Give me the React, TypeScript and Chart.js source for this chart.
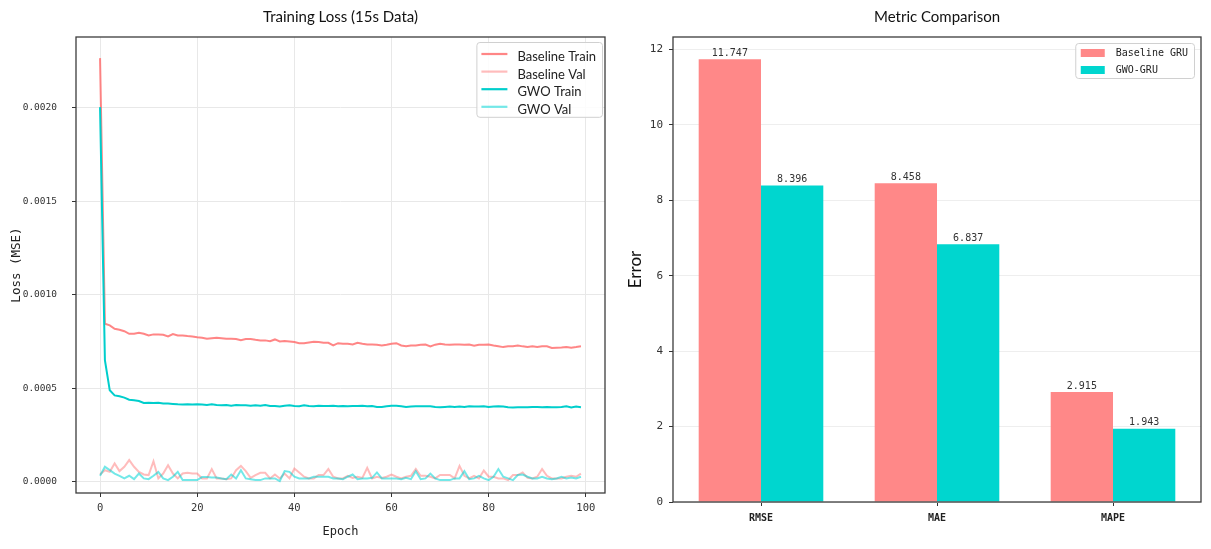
import React, { useEffect, useRef } from "react";
import { Chart, registerables } from "chart.js";

Chart.register(...registerables);

// ---- Training loss curves (per epoch) ----
const baselineTrain = [
  0.002265, 0.000845, 0.000836, 0.000818, 0.000813, 0.000805, 0.000791, 0.000791, 0.000797, 0.000791,
  0.000782, 0.000788, 0.000788, 0.000786, 0.000777, 0.00079, 0.000782, 0.000782, 0.000779, 0.000777,
  0.000773, 0.00077, 0.000765, 0.000768, 0.00077, 0.000768, 0.000765, 0.000765, 0.000763, 0.000757,
  0.000763, 0.000763, 0.000759, 0.000756, 0.000756, 0.000752, 0.000761, 0.00075, 0.000752, 0.00075,
  0.000747, 0.000741, 0.000741, 0.000745, 0.000749, 0.000747, 0.000743, 0.000743, 0.000729, 0.000741,
  0.000738, 0.000738, 0.000734, 0.000743, 0.000738, 0.000734, 0.000734, 0.000733, 0.000729, 0.000733,
  0.000738, 0.000741, 0.000729, 0.000725, 0.000729, 0.000729, 0.000733, 0.000734, 0.000724, 0.000733,
  0.000738, 0.000734, 0.000733, 0.000734, 0.000734, 0.000733, 0.000734, 0.000727, 0.000733, 0.000733,
  0.000734, 0.000729, 0.000725, 0.00072, 0.000724, 0.000725, 0.000729, 0.000724, 0.00072, 0.000724,
  0.00072, 0.000724, 0.000724, 0.000715, 0.000717, 0.000718, 0.00072, 0.000717, 0.00072, 0.000724,
];

const baselineVal = [
  0.000039, 0.000062, 0.000053, 0.000098, 0.000057, 0.00008, 0.000116, 0.00008, 0.000053, 0.000039,
  0.000036, 0.00011, 0.000018, 0.000044, 0.000089, 0.000044, 0.000018, 0.000044, 0.000048, 0.000044,
  0.000044, 0.000018, 0.000018, 0.000068, 0.000018, 0.000018, 0.000014, 0.000018, 0.000062, 0.000085,
  0.000057, 0.000021, 0.000036, 0.000048, 0.000048, 0.000018, 0.000039, 0.000018, 0.000044, 0.000018,
  0.000071, 0.00005, 0.000027, 0.000018, 0.000018, 0.000036, 0.000036, 0.000068, 0.000027, 0.000018,
  0.000018, 0.000032, 0.000021, 0.000027, 0.000021, 0.000075, 0.000018, 0.000027, 0.000021, 0.000027,
  0.000039, 0.000027, 0.000018, 0.000027, 0.000032, 0.000068, 0.000032, 0.000032, 0.000027, 0.000018,
  0.000036, 0.000036, 0.000036, 0.000018, 0.000085, 0.000032, 0.000018, 0.000032, 0.000018, 0.00006,
  0.000027, 0.000027, 0.000018, 0.000018, 0.000009, 0.000036, 0.000036, 0.00005, 0.000021, 0.000018,
  0.000027, 0.000068, 0.000032, 0.000018, 0.000018, 0.000018, 0.000027, 0.000032, 0.000027, 0.000044,
];

const gwoTrain = [
  0.002003, 0.00065, 0.000489, 0.000462, 0.000457, 0.00045, 0.000439, 0.000436, 0.000432, 0.000421,
  0.000423, 0.000421, 0.000423, 0.000418, 0.000418, 0.000416, 0.000414, 0.000413, 0.000414, 0.000413,
  0.000414, 0.000413, 0.000411, 0.000414, 0.000411, 0.000409, 0.000411, 0.000407, 0.000411, 0.000409,
  0.000409, 0.000407, 0.000409, 0.000407, 0.000411, 0.000405, 0.000405, 0.000402, 0.000407, 0.000409,
  0.000405, 0.000404, 0.000409, 0.000405, 0.000404, 0.000407, 0.000405, 0.000405, 0.000407, 0.000404,
  0.000405, 0.000404, 0.000405, 0.000405, 0.000407, 0.000404, 0.000405, 0.0004, 0.0004, 0.000404,
  0.000407, 0.000407, 0.000404, 0.0004, 0.000402, 0.000404, 0.000404, 0.000404, 0.000404, 0.0004,
  0.000398, 0.0004, 0.000402, 0.0004, 0.000402, 0.0004, 0.000404, 0.000402, 0.000402, 0.000404,
  0.0004, 0.000402, 0.000404, 0.000402, 0.000398, 0.000397, 0.000398, 0.000398, 0.000398, 0.0004,
  0.0004, 0.000398, 0.0004, 0.000398, 0.000398, 0.0004, 0.000404, 0.000397, 0.000402, 0.000398,
];

const gwoVal = [
  0.000032, 0.00008, 0.000062, 0.000044, 0.000032, 0.000018, 0.000032, 0.000014, 0.000044, 0.000018,
  0.000014, 0.000032, 0.000053, 0.000018, 0.000009, 0.000027, 0.000053, 0.000009, 0.000009, 0.000009,
  0.000009, 0.000025, 0.000025, 0.000023, 0.000023, 0.000018, 0.000014, 0.000039, 0.000018, 0.000062,
  0.000018, 0.000014, 0.000009, 0.000009, 0.000018, 0.000018, 0.000018, 0.000004, 0.000057, 0.000053,
  0.000027, 0.000018, 0.000018, 0.000018, 0.000027, 0.000027, 0.000027, 0.000027, 0.000018, 0.000018,
  0.000014, 0.000027, 0.000039, 0.000014, 0.000018, 0.000018, 0.000021, 0.00005, 0.000018, 0.000018,
  0.000018, 0.000018, 0.000014, 0.000021, 0.000014, 0.000057, 0.000014, 0.000018, 0.000044, 0.000018,
  0.000009, 0.000009, 0.000009, 0.000018, 0.000018, 0.000057, 0.000014, 0.000018, 0.000032, 0.000018,
  0.000009, 0.000027, 0.000068, 0.000027, 0.000018, 0.000009, 0.000036, 0.000039, 0.000027, 0.000018,
  0.000018, 0.000027, 0.000018, 0.000014, 0.000018, 0.000027, 0.000018, 0.000023, 0.000018, 0.000027,
];

const epochTicks = [0, 20, 40, 60, 80, 100];
const lossTicks = [0, 0.0005, 0.001, 0.0015, 0.002];

// ---- Final error metrics ----
const metricNames = ["RMSE", "MAE", "MAPE"];
const baselineGru = [11.747, 8.458, 2.915];
const gwoGru = [8.396, 6.837, 1.943];
const errorTicks = [0, 2, 4, 6, 8, 10, 12];

const PINK = "rgba(255,107,107,0.82)";
const PINK_LIGHT = "rgba(255,107,107,0.45)";
const CYAN = "rgb(0,206,204)";
const CYAN_LIGHT = "rgba(0,214,214,0.55)";
const PINK_BAR = "rgb(255,136,136)";
const CYAN_BAR = "rgb(0,214,207)";

const MONO = "'DejaVu Sans Mono', 'Liberation Mono', monospace";
const SANS = "Lato, 'Open Sans', sans-serif";

// Dark frame around the plotting area (all four sides)
const framePlugin = {
  id: "frameBox",
  afterDatasetsDraw(chart: any) {
    const { ctx, chartArea: a } = chart;
    ctx.save();
    ctx.strokeStyle = "#3c3c3c";
    ctx.lineWidth = 1.3;
    ctx.strokeRect(a.left, a.top, a.right - a.left, a.bottom - a.top);
    ctx.restore();
  },
};

type LegendItem = { label: string; color: string; kind: "line" | "box" };

// Legend box drawn in the upper-right corner of the plotting area
function cornerLegend(
  id: string,
  items: LegendItem[],
  cfg: { font: string; right: number; top: number; first: number; step: number; textX: number; textDy: number }
) {
  return {
    id,
    afterDraw(chart: any) {
      const { ctx, chartArea: a } = chart;
      ctx.save();
      ctx.font = cfg.font;
      let maxW = 0;
      items.forEach((it) => (maxW = Math.max(maxW, ctx.measureText(it.label).width)));
      const w = cfg.textX + maxW + 6;
      const h = cfg.first * 2 + cfg.step * (items.length - 1) - 2;
      const x = a.right - cfg.right - w;
      const y = a.top + cfg.top;
      ctx.fillStyle = "rgba(255,255,255,0.85)";
      ctx.strokeStyle = "#d0d0d0";
      ctx.lineWidth = 1;
      ctx.beginPath();
      (ctx as any).roundRect(x + 0.5, y + 0.5, w, h, 3);
      ctx.fill();
      ctx.stroke();
      items.forEach((it, i) => {
        const cy = y + cfg.first + i * cfg.step;
        if (it.kind === "line") {
          ctx.strokeStyle = it.color;
          ctx.lineWidth = 2.2;
          ctx.beginPath();
          ctx.moveTo(x + 5, cy);
          ctx.lineTo(x + 31, cy);
          ctx.stroke();
        } else {
          ctx.fillStyle = it.color;
          ctx.fillRect(x + 5.5, cy - 4, 24, 8);
        }
        ctx.fillStyle = "#222";
        ctx.textAlign = "left";
        ctx.textBaseline = "middle";
        ctx.fillText(it.label, x + cfg.textX, cy + cfg.textDy);
      });
      ctx.restore();
    },
  };
}

// Value printed above every bar
const barValuePlugin = {
  id: "barValues",
  afterDatasetsDraw(chart: any) {
    const { ctx } = chart;
    ctx.save();
    ctx.font = `10px ${MONO}`;
    ctx.fillStyle = "#333";
    ctx.textAlign = "center";
    ctx.textBaseline = "bottom";
    chart.data.datasets.forEach((ds: any, di: number) => {
      const meta = chart.getDatasetMeta(di);
      meta.data.forEach((el: any, i: number) => {
        ctx.fillText(Number(ds.data[i]).toFixed(3), el.x, el.y - 1);
      });
    });
    ctx.restore();
  },
};

const lineDs = (label: string, values: number[], color: string, order: number) => ({
  label,
  data: values.map((v, i) => ({ x: i, y: v })),
  borderColor: color,
  backgroundColor: color,
  borderWidth: 2,
  pointRadius: 0,
  tension: 0,
  fill: false,
  order,
});

export default function App() {
  const leftRef = useRef<HTMLCanvasElement>(null);
  const rightRef = useRef<HTMLCanvasElement>(null);

  useEffect(() => {
    const lossChart = new Chart(leftRef.current as HTMLCanvasElement, {
      type: "line",
      data: {
        datasets: [
          lineDs("Baseline Train", baselineTrain, PINK, 4),
          lineDs("Baseline Val", baselineVal, PINK_LIGHT, 3),
          lineDs("GWO Train", gwoTrain, CYAN, 2),
          lineDs("GWO Val", gwoVal, CYAN_LIGHT, 1),
        ],
      },
      options: {
        animation: false,
        responsive: false,
        devicePixelRatio: 1,
        layout: { padding: { left: 0, right: 10, top: 0, bottom: 0 } },
        plugins: {
          legend: { display: false },
          tooltip: { enabled: false },
          title: {
            display: true,
            text: "Training Loss (15s Data)",
            fullSize: false,
            color: "#111",
            font: { family: SANS, size: 15, weight: "normal" },
            padding: { top: 8, bottom: 11 },
          },
        },
        scales: {
          x: {
            type: "linear",
            min: -4.95,
            max: 103.95,
            afterBuildTicks: (s: any) => {
              s.ticks = epochTicks.map((v) => ({ value: v }));
            },
            afterFit: (s: any) => {
              s.height = 56;
            },
            grid: { color: "#e8e8e8", lineWidth: 1, tickColor: "#333", tickLength: 4, drawTicks: true },
            border: { display: false },
            ticks: {
              color: "#333",
              font: { family: MONO, size: 10.5 },
              padding: 5,
              maxRotation: 0,
              autoSkip: false,
            },
            title: {
              display: true,
              text: "Epoch",
              color: "#222",
              font: { family: MONO, size: 12 },
              padding: { top: 0, bottom: 10 },
            },
          },
          y: {
            type: "linear",
            min: -0.00006,
            max: 0.002378,
            afterBuildTicks: (s: any) => {
              s.ticks = lossTicks.map((v) => ({ value: v }));
            },
            afterFit: (s: any) => {
              s.width = 76;
            },
            grid: { color: "#e8e8e8", lineWidth: 1, tickColor: "#333", tickLength: 4, drawTicks: true },
            border: { display: false },
            ticks: {
              color: "#333",
              font: { family: MONO, size: 9.5 },
              padding: 15,
              callback: (v: any) => Number(v).toFixed(4),
            },
            title: {
              display: true,
              text: "Loss (MSE)",
              color: "#222",
              font: { family: MONO, size: 12.5 },
              padding: { top: 9, bottom: 0 },
            },
          },
        },
      },
      plugins: [
        framePlugin,
        cornerLegend(
          "lossLegend",
          [
            { label: "Baseline Train", color: PINK, kind: "line" },
            { label: "Baseline Val", color: PINK_LIGHT, kind: "line" },
            { label: "GWO Train", color: CYAN, kind: "line" },
            { label: "GWO Val", color: CYAN_LIGHT, kind: "line" },
          ],
          { font: `13px ${SANS}`, right: 3, top: 5, first: 12, step: 17.6, textX: 41, textDy: 3 }
        ),
      ],
    } as any);

    const metricChart = new Chart(rightRef.current as HTMLCanvasElement, {
      type: "bar",
      data: {
        labels: metricNames,
        datasets: [
          {
            label: "Baseline GRU",
            data: baselineGru,
            backgroundColor: PINK_BAR,
            borderWidth: 0,
            categoryPercentage: 0.708,
            barPercentage: 1,
          },
          {
            label: "GWO-GRU",
            data: gwoGru,
            backgroundColor: CYAN_BAR,
            borderWidth: 0,
            categoryPercentage: 0.708,
            barPercentage: 1,
          },
        ],
      },
      options: {
        animation: false,
        responsive: false,
        devicePixelRatio: 1,
        layout: { padding: { left: 0, right: 10, top: 0, bottom: 0 } },
        plugins: {
          legend: { display: false },
          tooltip: { enabled: false },
          title: {
            display: true,
            text: "Metric Comparison",
            fullSize: false,
            color: "#111",
            font: { family: SANS, size: 15, weight: "normal" },
            padding: { top: 8, bottom: 11 },
          },
        },
        scales: {
          x: {
            type: "category",
            offset: true,
            afterFit: (s: any) => {
              s.height = 47;
            },
            grid: {
              display: true,
              offset: false,
              drawOnChartArea: false,
              drawTicks: true,
              tickColor: "#333",
              tickLength: 4,
            },
            border: { display: false },
            ticks: {
              color: "#222",
              font: { family: MONO, size: 10, weight: "bold" },
              padding: 6,
              maxRotation: 0,
            },
          },
          y: {
            type: "linear",
            min: 0,
            max: 12.334,
            afterBuildTicks: (s: any) => {
              s.ticks = errorTicks.map((v) => ({ value: v }));
            },
            afterFit: (s: any) => {
              s.width = 58;
            },
            grid: { color: "#eeeeee", lineWidth: 1, tickColor: "#333", tickLength: 4, drawTicks: true },
            border: { display: false },
            ticks: {
              color: "#333",
              font: { family: MONO, size: 11 },
              padding: 6,
            },
            title: {
              display: true,
              text: "Error",
              color: "#111",
              font: { family: SANS, size: 17 },
              padding: { top: 10, bottom: 0 },
            },
          },
        },
      },
      plugins: [
        framePlugin,
        barValuePlugin,
        cornerLegend(
          "metricLegend",
          [
            { label: "Baseline GRU", color: PINK_BAR, kind: "box" },
            { label: "GWO-GRU", color: CYAN_BAR, kind: "box" },
          ],
          { font: `10px ${MONO}`, right: 7, top: 6, first: 10, step: 17, textX: 40.5, textDy: 0 }
        ),
      ],
    } as any);

    return () => {
      lossChart.destroy();
      metricChart.destroy();
    };
  }, []);

  return (
    <div style={{ position: "fixed", left: 0, top: 0, width: 1211, height: 549, background: "#fff" }}>
      <div style={{ position: "absolute", left: 0, top: 0, width: 615, height: 549 }}>
        <canvas ref={leftRef} width={615} height={549} style={{ display: "block" }} />
      </div>
      <div style={{ position: "absolute", left: 615, top: 0, width: 596, height: 549 }}>
        <canvas ref={rightRef} width={596} height={549} style={{ display: "block" }} />
      </div>
    </div>
  );
}
